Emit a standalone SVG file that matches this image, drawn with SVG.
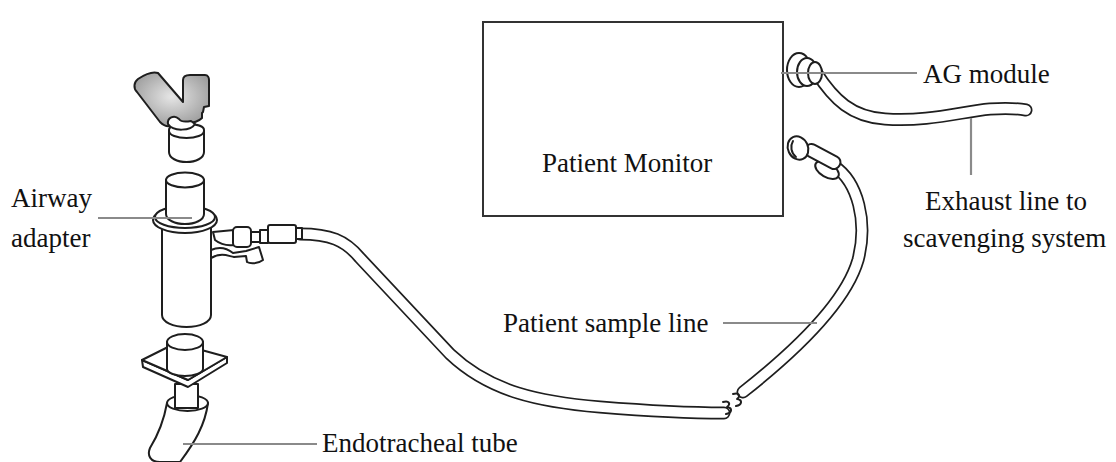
<svg xmlns="http://www.w3.org/2000/svg" width="1116" height="462" viewBox="0 0 1116 462">
  <defs>
    <radialGradient id="ygrad" cx="0.5" cy="0.45" r="0.6">
      <stop offset="0" stop-color="#e6e6e6"/>
      <stop offset="1" stop-color="#9a9a9a"/>
    </radialGradient>
    <style>
      .ol { fill: #fff; stroke: #1e1e1e; stroke-width: 2; stroke-linejoin: round; stroke-linecap: round; }
      .ln { fill: none; stroke: #1e1e1e; stroke-width: 2; stroke-linejoin: round; stroke-linecap: round; }
      .tube-o { fill: none; stroke: #1e1e1e; stroke-width: 13; stroke-linecap: round; }
      .tube-i { fill: none; stroke: #fff; stroke-width: 9.6; stroke-linecap: round; }
      .lead { fill: none; stroke: #8a8a8a; stroke-width: 2.2; }
      .lbl { font-family: "Liberation Serif", "Times New Roman", serif; font-size: 27px; fill: #111; }
    </style>
  </defs>
  <rect width="1116" height="462" fill="#fff"/>

  <!-- monitor -->
  <g id="patient-monitor">
    <rect x="483" y="22" width="300" height="194" fill="#fff" stroke="#333" stroke-width="2"/>
    <text class="lbl" x="542" y="172">Patient Monitor</text>
  </g>

  <!-- tubing -->
  <g id="connectors">
    <!-- sample line from adapter -->
    <path class="tube-o" d="M300,234 C330,234 345,240 360,258 L450,354 C490,392 540,402 600,407 C650,411 690,413 724,413"/>
    <path class="tube-i" d="M300,234 C330,234 345,240 360,258 L450,354 C490,392 540,402 600,407 C650,411 690,413 724,413"/>
    <!-- sample line into monitor -->
    <path class="tube-o" d="M834,166 C858,182 868,222 858,260 C845,305 790,355 743,392"/>
    <path class="tube-i" d="M834,166 C858,182 868,222 858,260 C845,305 790,355 743,392"/>
    <!-- exhaust line -->
    <path class="tube-o" d="M816,72 C834,100 852,117 885,119 C928,122 960,112 990,109 C1005,108 1015,108 1026,110"/>
    <path class="tube-i" d="M816,72 C834,100 852,117 885,119 C928,122 960,112 990,109 C1005,108 1015,108 1026,110"/>
    <!-- break marks -->
    <path class="ln" stroke-width="1.6" d="M723,402 C729,400 731,404 727,407 C733,408 732,413 726,414 M733,394 C739,392 741,396 737,399 C743,400 742,405 736,406"/>
  </g>

  <!-- exhaust connector -->
  <g id="ag-module">
    <ellipse class="ol" cx="799" cy="70" rx="12" ry="17"/>
    <ellipse class="ol" cx="807" cy="72" rx="10" ry="14"/>
    <ellipse class="ol" cx="815" cy="73" rx="7" ry="11"/>
    <path class="lead" d="M781,73 L917,73"/>
    <text class="lbl" x="923" y="83">AG module</text>
  </g>

  <g id="exhaust-line">
    <path class="lead" d="M971,118 L971,175"/>
    <text class="lbl" x="925" y="210">Exhaust line to</text>
    <text class="lbl" x="903" y="247">scavenging system</text>
  </g>

  <!-- sample line inlet on monitor -->
  <g id="sample-inlet">
    <ellipse class="ol" cx="827" cy="170" rx="13" ry="7" transform="rotate(30 827 170)"/>
    <rect class="ol" x="804" y="150" width="38" height="13" rx="6" transform="rotate(28 823 156)"/>
    <ellipse class="ol" cx="798" cy="148" rx="10" ry="12" transform="rotate(-25 798 148)"/>
    <path class="ln" d="M793,141 C790,146 791,153 796,157"/>
  </g>

  <g id="sample-line-label">
    <text class="lbl" x="503" y="332">Patient sample line</text>
    <path class="lead" d="M723,323 L817,323"/>
  </g>

  <!-- airway adapter assembly -->
  <g id="airway-adapter">
    <!-- Y piece -->
    <path d="M158,73 L183,102 L183,80 C183,76 186,75 190,75 L205,75 C208,75 209,78 209,80 L209,106 L204,107 L203,112 L202,113 L202,118 C198,122 192,123 187,123 L170,126 C165,127 162,124 160,122 L137,92 C133,88 134,82 138,79 C144,75 152,71 158,73 Z" fill="url(#ygrad)" stroke="#1e1e1e" stroke-width="2" stroke-linejoin="round"/>
    <!-- cap -->
    <path class="ol" d="M169,130 L169,152 C169,158 177,162 186.5,162 C196,162 204,158 204,152 L204,130 C204,126 196,124 186.5,124 C177,124 169,126 169,130 Z"/>
    <path class="ln" d="M169,131 C169,135 177,138 186.5,138 C196,138 204,135 204,131"/>
    <path class="ol" d="M168,124 C167,118 174,114 179,119 C181,122 186,122 191,121 L195,124 C191,131 173,132 168,124 Z"/>
    <!-- side port -->
    <path class="ol" d="M211,250 C220,246 228,249 233,253 L246,251 L259,247 L263,260 C258,264 250,264 247,262 L246,256 L234,257 C228,256 222,252 211,258 Z"/>
    <path class="ol" d="M213,232 L234,230 L234,245 C226,246 220,244 215,240 Z"/>
    <rect class="ol" x="233" y="227" width="18" height="20" rx="4"/>
    <rect class="ol" x="251" y="232" width="9" height="10"/>
    <rect class="ol" x="260" y="230" width="8" height="13"/>
    <rect class="ol" x="268" y="225" width="28" height="18" rx="2"/>
    <rect class="ol" x="296" y="228" width="6" height="11"/>
    <!-- lower body -->
    <path class="ol" d="M162,222 L162,315 C162,322 173,327 186.5,327 C200,327 211,322 211,315 L211,222 Z"/>
    <!-- collar -->
    <ellipse class="ol" cx="185" cy="220" rx="32" ry="13"/>
    <ellipse class="ol" cx="185" cy="217" rx="30" ry="11"/>
    <!-- upper body -->
    <path class="ol" d="M166,180 L166,214 C166,220 175,224 185,224 C195,224 204,220 204,214 L204,180 Z"/>
    <ellipse class="ol" cx="185" cy="180" rx="19" ry="7.5"/>
    <path class="lead" d="M98,218 L192,218"/>
    <text class="lbl" x="11" y="207">Airway</text>
    <text class="lbl" x="11" y="247">adapter</text>
  </g>

  <!-- endotracheal tube and fitting -->
  <g id="endotracheal-tube">
    <path class="ol" d="M167,403 C164,420 158,435 150,448 C147,455 150,462 160,462 L180,462 C195,442 205,425 208,403 Z"/>
    <ellipse class="ol" cx="187.5" cy="403" rx="20.5" ry="8"/>
    <rect class="ol" x="175" y="384" width="23" height="24"/>
    <path class="ol" d="M142,360 L188,380 L227,357 L227,363 L188,387 L143,367 Z"/>
    <path class="ol" d="M142,360 L176,343 L227,357 L188,380 Z"/>
    <path class="ol" d="M167,342 L167,369 C167,373 176,376 185,376 C194,376 203,373 203,369 L203,342 Z"/>
    <ellipse class="ol" cx="185" cy="342" rx="18" ry="8"/>
    <path class="lead" d="M183,444 L317,444"/>
    <text class="lbl" x="322" y="452">Endotracheal tube</text>
  </g>
</svg>
